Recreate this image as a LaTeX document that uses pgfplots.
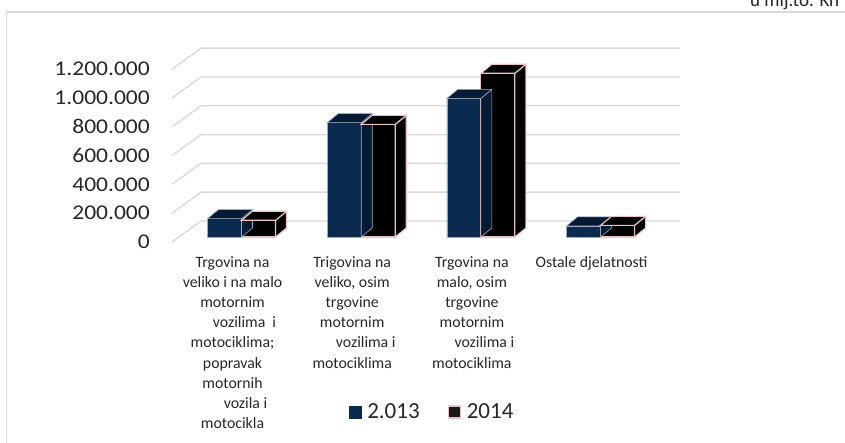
\documentclass[border=0pt]{standalone}
\usepackage{fontspec}
\setmainfont{Carlito}
\newfontfamily\tickfont{Carlito}[FakeStretch=1.12]
\usepackage{pgfplots}
\usepackage{pgfplotstable}
\pgfplotsset{compat=1.18}
\definecolor{front13}{HTML}{0B2A4F}
\definecolor{top13}{HTML}{061B33}
\definecolor{edge13}{HTML}{9AAAC0}
\definecolor{edge14}{HTML}{EBC3C3}
\definecolor{gridc}{HTML}{D9D9D9}
\definecolor{framec}{HTML}{D9D9D9}
\pgfdeclareplotmark{nothing}{}
\pgfplotstableread{
x a b
0 128000 116000
1 794000 782000
2 963000 1137000
3 77000 81000
}\data
\begin{document}
\begin{tikzpicture}
\draw[framec, line width=1.5pt] (6.5pt,-5pt) -- (6.5pt,431pt) -- (850pt,431pt);
\node[anchor=base west, font=\fontsize{19}{19}\selectfont, inner sep=0pt, text=black!85] at (750pt,436pt) {u mlj.to. Kn};
\begin{axis}[
  at={(181.7pt,206pt)}, anchor=south west,
  scale only axis, width=478.7pt, height=172.8pt,
  xmin=-0.5, xmax=3.5, ymin=0, ymax=1200000,
  point meta min=0, point meta max=1200000,
  clip=false,
  axis line style={draw=none},
  tick style={draw=none},
  major tick length=0pt,
  scaled y ticks=false,
  ytick={0,200000,400000,600000,800000,1000000,1200000},
  yticklabels={0,200.000,400.000,600.000,800.000,1.000.000,1.200.000},
  yticklabel style={font=\tickfont\fontsize{21}{21}\selectfont, anchor=east, inner sep=0pt, xshift=-31.7pt, yshift=-5pt, text=black!85},
  xtick={0,1,2,3},
  xticklabels={
    {Trgovina na\\veliko i na malo\\motornim\\\hspace*{24pt}vozilima\ \ i\\motociklima;\\popravak\\motornih\\\hspace*{26pt}vozila i\\motocikla},
    {Trigovina na\\veliko, osim\\trgovine\\motornim\\\hspace*{27pt}vozilima i\\motociklima},
    {Trgovina na\\malo, osim\\trgovine\\motornim\\\hspace*{25pt}vozilima i\\motociklima},
    {Ostale djelatnosti}},
  xticklabel style={font=\fontsize{15.8}{20.2}\selectfont, align=center, anchor=north, inner sep=0pt, xshift=-9pt, yshift=-19pt, text=black!85},
  legend columns=2,
  legend style={at={(0.523,-1.013)}, anchor=center, draw=none, fill=none, font=\fontsize{23}{23}\selectfont, text=black!85,
    /tikz/every odd column/.append style={column sep=4pt},
    /tikz/every even column/.append style={column sep=26pt}},
]
\pgfplotsinvokeforeach{0,200000,400000,600000,800000,1000000,1200000}{
  \draw[gridc, line width=1.4pt] ([xshift=-9.7pt,yshift=-5pt]axis cs:-0.5,#1) -- ([xshift=19.3pt,yshift=16pt]axis cs:-0.5,#1) -- ([xshift=19.6pt,yshift=16pt]axis cs:3.5,#1);
}
\addplot[ybar, bar width=34pt, bar shift=-17pt, fill=front13, draw=edge13, line width=0.6pt,
  legend image code/.code={\filldraw[fill=front13,draw=front13] (0pt,-6pt) rectangle (12pt,6pt);}]
  table[x=x,y=a]{\data};
\addlegendentry{2.013}
\addplot[forget plot, scatter, only marks, mark=nothing, point meta=y,
  scatter/@pre marker code/.code={%
    \pgfmathsetmacro\hb{-\pgfplotspointmetatransformed*0.1728}%
    \pgfmathsetmacro\hc{9-\pgfplotspointmetatransformed*0.1728}%
    \filldraw[fill=top13, draw=edge13, line width=0.6pt] (0pt,0pt) -- (11pt,9pt) -- (11pt,\hc pt) -- (0pt,\hb pt) -- cycle;
    \filldraw[fill=top13, draw=edge13, line width=0.6pt] (-34pt,0pt) -- (0pt,0pt) -- (11pt,9pt) -- (-23pt,9pt) -- cycle;
  },
  scatter/@post marker code/.code={}]
  table[x=x,y=a]{\data};
\addplot[ybar, bar width=34pt, bar shift=17pt, fill=black, draw=edge14, line width=1.1pt,
  legend image code/.code={\filldraw[fill=black!90,draw=edge14] (0pt,-6pt) rectangle (12pt,6pt);}]
  table[x=x,y=b]{\data};
\addlegendentry{2014}
\addplot[forget plot, scatter, only marks, mark=nothing, point meta=y,
  scatter/@pre marker code/.code={%
    \pgfmathsetmacro\hb{-\pgfplotspointmetatransformed*0.1728}%
    \pgfmathsetmacro\hc{9-\pgfplotspointmetatransformed*0.1728}%
    \filldraw[fill=black, draw=edge14, line width=1.1pt] (34pt,0pt) -- (45pt,9pt) -- (45pt,\hc pt) -- (34pt,\hb pt) -- cycle;
    \filldraw[fill=black, draw=edge14, line width=1.1pt] (0pt,0pt) -- (34pt,0pt) -- (45pt,9pt) -- (11pt,9pt) -- cycle;
  },
  scatter/@post marker code/.code={}]
  table[x=x,y=b]{\data};
\end{axis}
\pgfresetboundingbox
\path[use as bounding box] (0pt,0pt) rectangle (845pt,443pt);
\end{tikzpicture}
\end{document}
